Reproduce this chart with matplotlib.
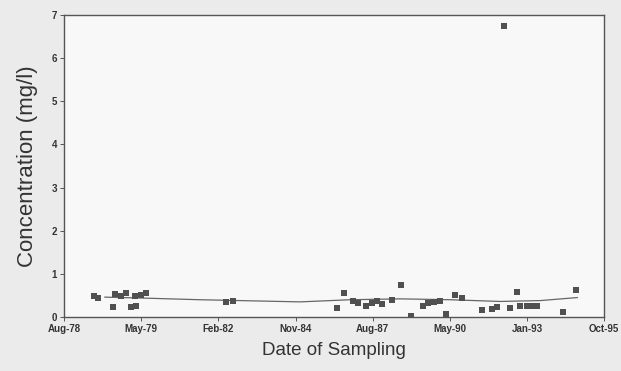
import matplotlib.pyplot as plt

plt.rcParams['font.family'] = ['Liberation Sans', 'DejaVu Sans']

# x positions in tick units (0 = Aug-78 ... 7 = Oct-95)
tick_labels = ['Aug-78', 'May-79', 'Feb-82', 'Nov-84', 'Aug-87', 'May-90', 'Jan-93', 'Oct-95']

sample_x = [0.39, 0.44, 0.64, 0.66, 0.74, 0.80, 0.87, 0.93, 0.92, 1.00, 1.06,
            2.10, 2.19, 3.54, 3.63, 3.75, 3.81, 3.91, 3.99, 4.06, 4.12, 4.25,
            4.37, 4.49, 4.65, 4.72, 4.80, 4.87, 4.95, 5.07, 5.16, 5.42, 5.55,
            5.61, 5.70, 5.78, 5.87, 5.91, 6.00, 6.08, 6.13, 6.46, 6.64]
concentration = [0.49, 0.44, 0.23, 0.53, 0.49, 0.56, 0.23, 0.26, 0.49, 0.51, 0.56,
                 0.35, 0.37, 0.21, 0.56, 0.37, 0.32, 0.26, 0.32, 0.37, 0.30, 0.39,
                 0.74, 0.02, 0.26, 0.32, 0.35, 0.37, 0.07, 0.51, 0.44, 0.16, 0.19,
                 0.23, 6.75, 0.21, 0.58, 0.26, 0.26, 0.26, 0.26, 0.12, 0.63]

trend_x = [0.53, 0.99, 1.76, 2.54, 3.06, 3.71, 4.36, 5.00, 5.65, 6.17, 6.65]
trend_y = [0.46, 0.44, 0.40, 0.37, 0.35, 0.40, 0.42, 0.40, 0.36, 0.38, 0.45]

fig = plt.figure(figsize=(6.21, 3.71), dpi=100, facecolor='#ebebeb')
ax = fig.add_axes([0.103, 0.1456, 0.870, 0.814], facecolor='#f8f8f8')

ax.plot(trend_x, trend_y, color='#666666', linewidth=0.9)
ax.plot(sample_x, concentration, 's', color='#505050', markersize=5, markeredgewidth=0)

ax.set_xlim(0, 7)
ax.set_ylim(0, 7)
ax.set_xticks(range(8))
ax.set_xticklabels(tick_labels, fontsize=7, fontweight='bold', color='#333333')
ax.set_yticks(range(8))
ax.set_yticklabels([str(i) for i in range(8)], fontsize=7, fontweight='bold', color='#333333')
ax.tick_params(length=3, width=0.7, color='#555555', pad=2)
for s in ax.spines.values():
    s.set_color('#555555')
    s.set_linewidth(1.0)

ax.set_xlabel('Date of Sampling', fontsize=13.5, color='#333333', labelpad=6)
ax.set_ylabel('Concentration (mg/l)', fontsize=16, color='#333333', labelpad=10)

fig.savefig('out.png', dpi=100, facecolor=fig.get_facecolor())
